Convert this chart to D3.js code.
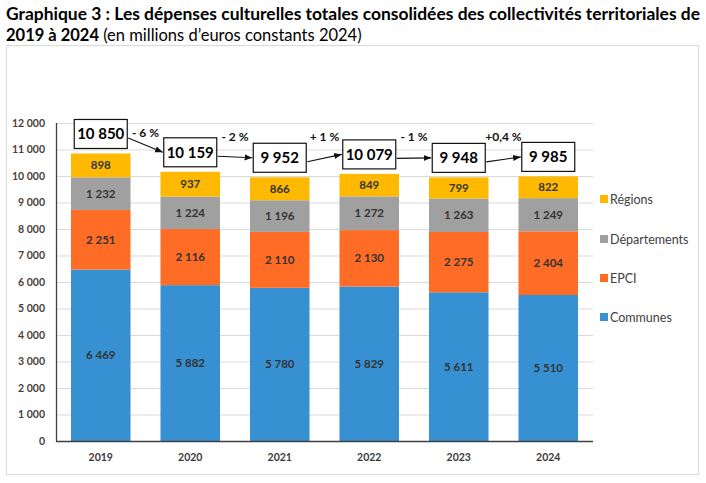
<!DOCTYPE html>
<html><head><meta charset="utf-8">
<script src="https://cdn.jsdelivr.net/npm/d3@7"></script>
<style>body{margin:0;background:#fff}svg{display:block;font-family:Lato,"Open Sans",sans-serif}</style>
</head><body><svg id="c" width="706" height="483"></svg>
<script>
const years = ["2019","2020","2021","2022","2023","2024"];
const communes = [6469,5882,5780,5829,5611,5510];
const epci = [2251,2116,2110,2130,2275,2404];
const departements = [1232,1224,1196,1272,1263,1249];
const regions = [898,937,866,849,799,822];
const totals = [10850,10159,9952,10079,9948,9985];
const changes = ["- 6 %","- 2 %","+ 1 %","- 1 %","+0,4 %"];
const seriesNames = ["Communes","EPCI","Départements","Régions"];
const seriesColors = ["#3790d2","#fe6c25","#a0a0a0","#ffb900"];
const yTicks = [0,1000,2000,3000,4000,5000,6000,7000,8000,9000,10000,11000,12000];

const svg = d3.select("#c");
const fmt = v => d3.format(",")(v).replace(/,/g," ");
const seriesVals = [communes, epci, departements, regions];

// title
svg.append("text").attr("x",6).attr("y",20).attr("font-size",16.5).attr("font-weight","bold")
  .attr("fill","#000").attr("textLength",694).attr("lengthAdjust","spacingAndGlyphs")
  .text("Graphique 3 : Les dépenses culturelles totales consolidées des collectivités territoriales de");
const t2 = svg.append("text").attr("x",6).attr("y",41).attr("font-size",16.5).attr("fill","#000");
t2.append("tspan").attr("font-weight","bold").text("2019 à 2024");
t2.append("tspan").text(" (en millions d’euros constants 2024)");

// frame
svg.append("rect").attr("x",6.5).attr("y",45.5).attr("width",692).attr("height",429)
  .attr("fill","none").attr("stroke","#d9d9d9");

const x = d3.scaleBand().domain(years).range([56,593]).paddingInner(0.335).paddingOuter(0.1675);
const y = d3.scaleLinear().domain([0,12000]).range([441,123]);

// grid
svg.append("g").selectAll("line").data(yTicks.filter(d=>d>0)).join("line")
  .attr("x1",56).attr("x2",593).attr("y1",d=>y(d)+0.5).attr("y2",d=>y(d)+0.5)
  .attr("stroke","#d9d9d9");

// y axis labels
const ya = svg.append("g").attr("transform","translate(56,0)")
  .call(d3.axisLeft(y).tickValues(yTicks).tickFormat(fmt).tickSize(0).tickPadding(11));
ya.select(".domain").remove();
ya.selectAll("text").attr("font-family","Lato,sans-serif").attr("font-size",10.5).attr("font-weight","bold").attr("fill","#4a3f3a");

// stacked bars
const table = years.map((yr,i)=>{const o={year:yr}; seriesNames.forEach((s,k)=>o[s]=seriesVals[k][i]); return o;});
const stack = d3.stack().keys(seriesNames)(table);
const g = svg.append("g");
stack.forEach((layer,k)=>{
  g.selectAll(null).data(layer).join("rect")
    .attr("x",d=>x(d.data.year)).attr("width",x.bandwidth())
    .attr("y",d=>y(d[1])).attr("height",d=>y(d[0])-y(d[1]))
    .attr("fill",seriesColors[k]);
  g.selectAll(null).data(layer).join("text")
    .attr("x",d=>x(d.data.year)+x.bandwidth()/2).attr("y",d=>(y(d[0])+y(d[1]))/2+4)
    .attr("text-anchor","middle").attr("font-size",11.5).attr("font-weight","bold").attr("fill","#333")
    .text(d=>fmt(d[1]-d[0]));
});

// axes lines
svg.append("line").attr("x1",56.5).attr("x2",56.5).attr("y1",123).attr("y2",441).attr("stroke","#404040").attr("stroke-width",1.3);
svg.append("line").attr("x1",56).attr("x2",593).attr("y1",441.5).attr("y2",441.5).attr("stroke","#404040").attr("stroke-width",1.3);

// x labels
svg.append("g").selectAll("text").data(years).join("text")
  .attr("x",d=>x(d)+x.bandwidth()/2).attr("y",461).attr("text-anchor","middle")
  .attr("font-size",10.5).attr("font-weight","bold").attr("fill","#3a3a3a").text(d=>d);

// total boxes
const bw=53, bh=29;
const boxes = totals.map((t,i)=>({t, cx:x(years[i])+x.bandwidth()/2, bottom:y(t)-5}));
boxes.forEach(b=>{b.top=b.bottom-bh; b.cy=b.top+bh/2;});
svg.append("defs").append("marker").attr("id","ah").attr("viewBox","0 0 10 10").attr("refX",10).attr("refY",5)
  .attr("markerWidth",7).attr("markerHeight",7).attr("orient","auto")
  .append("path").attr("d","M0,1 L10,5 L0,9 Z").attr("fill","#111");
for(let i=0;i<boxes.length-1;i++){
  const a=boxes[i], b=boxes[i+1];
  svg.append("line").attr("x1",a.cx+bw/2+1).attr("y1",a.cy+4).attr("x2",b.cx-bw/2-1).attr("y2",b.cy)
    .attr("stroke","#111").attr("stroke-width",1.1).attr("marker-end","url(#ah)");
  const ly = Math.min(137,(a.top+b.top)/2+4);
  svg.append("text").attr("x",(a.cx+b.cx)/2).attr("y",ly+4).attr("text-anchor","middle")
    .attr("font-size",12).attr("font-weight","bold").attr("fill","#111").text(changes[i]);
}
const bg = svg.append("g").selectAll("g").data(boxes).join("g");
bg.append("rect").attr("x",d=>d.cx-bw/2).attr("y",d=>d.top).attr("width",bw).attr("height",bh)
  .attr("fill","#fff").attr("stroke","#111").attr("stroke-width",1.2);
bg.append("text").attr("x",d=>d.cx).attr("y",d=>d.cy+5.5).attr("text-anchor","middle")
  .attr("font-size",15).attr("font-weight","bold").attr("fill","#000").text(d=>fmt(d.t));

// legend
const legY = [317,278,239,199];
const lg = svg.append("g").selectAll("g").data(seriesNames).join("g")
  .attr("transform",(d,i)=>`translate(600,${legY[i]})`);
lg.append("rect").attr("x",0).attr("y",-4).attr("width",8).attr("height",8).attr("fill",(d,i)=>seriesColors[i]);
lg.append("text").attr("x",10).attr("y",4.5).attr("font-size",12.5).attr("fill","#404040").text(d=>d);
</script></body></html>
